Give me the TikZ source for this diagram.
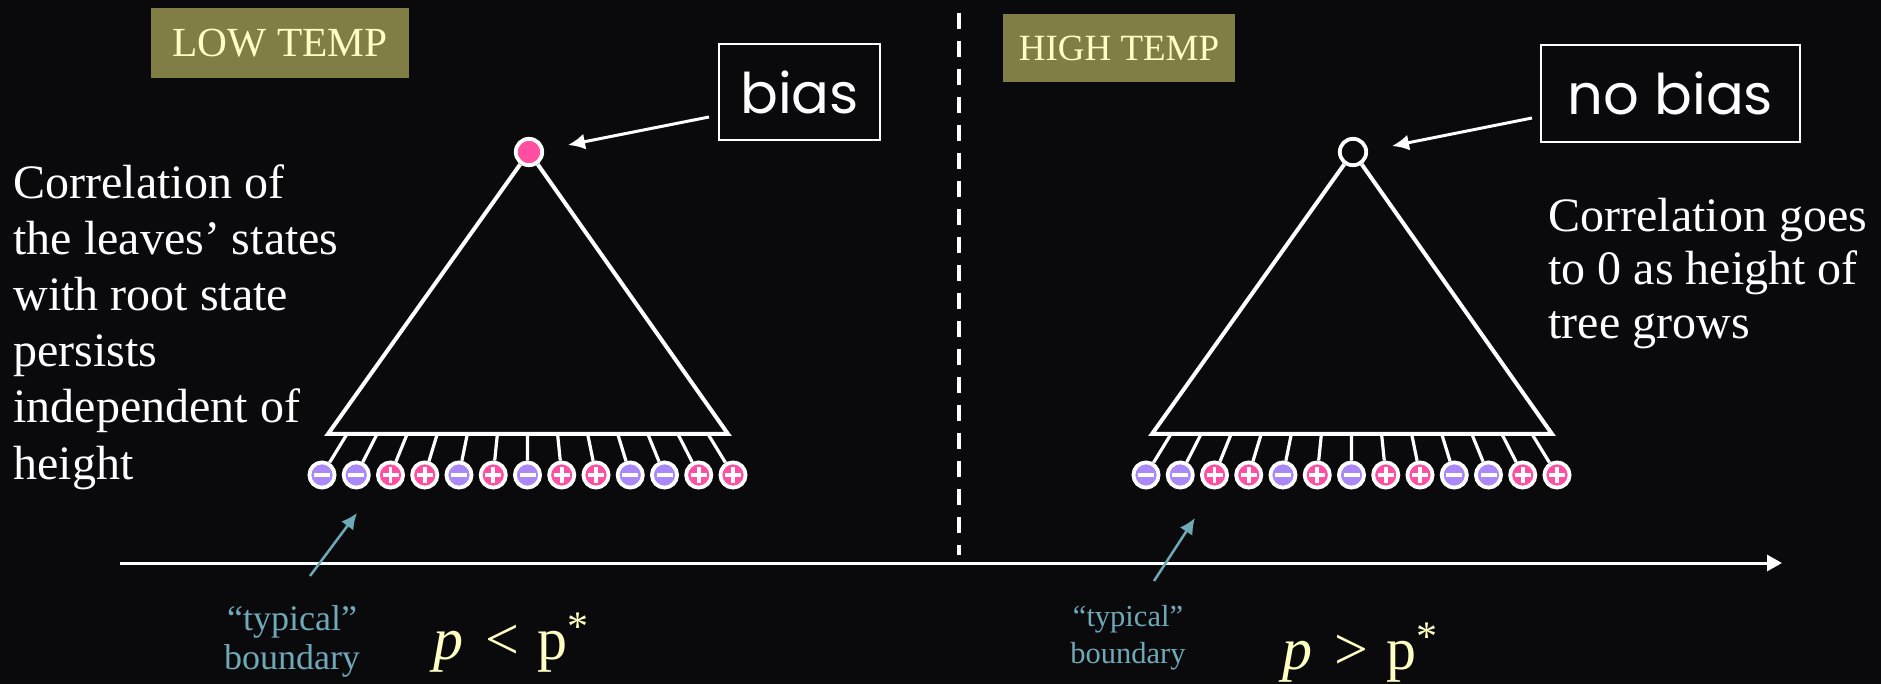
\documentclass[tikz,border=0pt]{standalone}
\usepackage{fontspec}
\setmainfont{Liberation Serif}
\newfontfamily\boxfont{Poppins}
\usetikzlibrary{arrows.meta}
\definecolor{bg}{HTML}{0A0A0C}
\definecolor{olivec}{HTML}{807E45}
\definecolor{cream}{HTML}{FFFFC4}
\definecolor{tealc}{HTML}{6FA9B8}
\definecolor{pinkc}{HTML}{FF4FA3}
\definecolor{purplec}{HTML}{AB88F8}
\begin{document}
\begin{tikzpicture}[x=0.5pt,y=-0.5pt,
  leaf/.style={circle,draw=white,line width=1.9pt,minimum size=12.6pt,inner sep=0pt},
  minusleaf/.style={leaf,fill=purplec,path picture={
      \draw[white,line width=1.8pt] ([xshift=-4pt]path picture bounding box.center) -- ([xshift=4pt]path picture bounding box.center);}},
  plusleaf/.style={leaf,fill=pinkc,path picture={
      \draw[white,line width=1.8pt] ([xshift=-4pt]path picture bounding box.center) -- ([xshift=4pt]path picture bounding box.center);
      \draw[white,line width=1.8pt] ([yshift=-4pt]path picture bounding box.center) -- ([yshift=4pt]path picture bounding box.center);}},
  rootnode/.style={circle,draw=white,line width=1.9pt,minimum size=13.2pt,inner sep=0pt},
  tri/.style={draw=white,line width=2pt},
  conn/.style={draw=white,line width=1.6pt},
  tag/.style={fill=olivec,text=cream,inner sep=0pt},
  lbl/.style={draw=white,line width=1pt,text=white,inner sep=0pt,font=\boxfont\fontsize{28}{30}\selectfont},
  ptr/.style={draw=white,line width=1.5pt,-{Latex[length=8.5pt,width=8pt]}},
  tptr/.style={draw=tealc,line width=1.25pt,-{Latex[length=8pt,width=7.5pt]}},
  axisline/.style={draw=white,line width=1.5pt,-{Triangle[length=7.5pt,width=8pt]}},
  para/.style={text=white,inner sep=0pt,align=left},
  typ/.style={text=tealc,inner sep=0pt,align=center},
  pcond/.style={text=cream,inner sep=0pt,font=\fontsize{30}{34}\selectfont}
]
\fill[bg] (0,0) rectangle (1881,684);
\useasboundingbox (0,0) rectangle (1881,684);

% headers
\node[tag,minimum width=129pt,minimum height=35pt,font=\fontsize{20.7}{24}\selectfont] (low) at (280,43) {LOW TEMP};
\node[tag,minimum width=116pt,minimum height=34pt,font=\fontsize{18.5}{22}\selectfont] (high) at (1119,48) {HIGH TEMP};

% dashed divider
\coordinate (d0) at (959,13);
\coordinate (d1) at (959,555);
\draw[white,line width=2pt,dash pattern=on 8pt off 6pt] (d0) -- (d1);

% axis
\coordinate (ax0) at (120,563);
\coordinate (ax1) at (1782,563);
\draw[axisline] (ax0) -- (ax1);

% trees
\node[rootnode,fill=pinkc] (root1) at (529,152) {};
\node[rootnode,fill=bg] (root2) at (1353,152) {};
\foreach \t/\dx in {1/0,2/824}{
  \coordinate (bl\t) at ({328+\dx},434);
  \coordinate (br\t) at ({728+\dx},434);
  \draw[tri] (root\t) -- (bl\t) -- (br\t) -- (root\t);
  \foreach \i/\s in {0/minusleaf,1/minusleaf,2/plusleaf,3/plusleaf,4/minusleaf,5/plusleaf,6/minusleaf,7/plusleaf,8/plusleaf,9/minusleaf,10/minusleaf,11/plusleaf,12/plusleaf}{
    \coordinate (b\t-\i) at ({347+\dx+30.08*\i},434);
    \node[\s] (l\t-\i) at ({322+\dx+34.25*\i},475) {};
    \draw[conn] (b\t-\i) -- (l\t-\i);
  }
}

% bias boxes
\node[lbl,minimum width=80.5pt,minimum height=48pt] (bias) at (799.5,92) {bias};
\node[lbl,minimum width=129.5pt,minimum height=48.5pt] (nobias) at (1670.5,93.5) {no bias};
\coordinate (a1s) at ([shift={(-9,25)}]bias.west);
\coordinate (a1e) at ([shift={(39,-7)}]root1.center);
\draw[ptr] (a1s) -- (a1e);
\coordinate (a2s) at ([shift={(-8,24.5)}]nobias.west);
\coordinate (a2e) at ([shift={(39,-6)}]root2.center);
\draw[ptr] (a2s) -- (a2e);

% paragraphs
\node[para,anchor=north west,font=\fontsize{24}{28.1}\selectfont] (ltext) at (13,164) {Correlation of\\the leaves’ states\\with root state\\persists\\independent of\\height};
\node[para,anchor=north west,font=\fontsize{24}{26.6}\selectfont] (rtext) at (1548,198) {Correlation goes\\to 0 as height of\\tree grows};

% typical boundary
\coordinate (t1s) at (310,576);
\coordinate (t1e) at (357,513);
\draw[tptr] (t1s) -- (t1e);
\coordinate (t2s) at (1154,581);
\coordinate (t2e) at (1195,518);
\draw[tptr] (t2s) -- (t2e);
\node[typ,anchor=north,font=\fontsize{18}{19.5}\selectfont] (typ1) at (292,605) {“typical”\\boundary};
\node[typ,anchor=north,font=\fontsize{15.25}{18.5}\selectfont] (typ2) at (1128,605) {“typical”\\boundary};

% conditions
\node[pcond,anchor=base west] (cond1) at (433,659) {\textit{p}\hspace{0.12em} < \hspace{0.05em}p\textsuperscript{*}};
\node[pcond,anchor=base west] (cond2) at (1282,669) {\textit{p}\hspace{0.12em} > \hspace{0.05em}p\textsuperscript{*}};
\end{tikzpicture}
\end{document}
